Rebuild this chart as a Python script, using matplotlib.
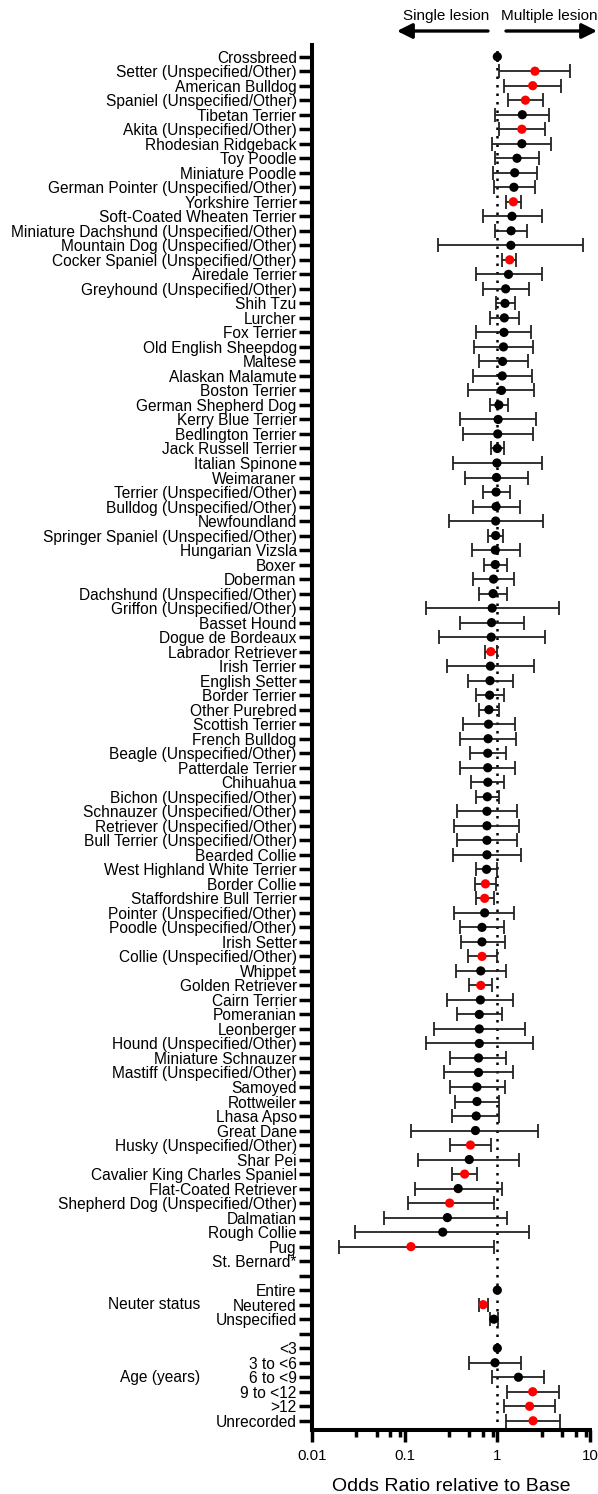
import numpy as np
import matplotlib.pyplot as plt
from matplotlib import transforms

plt.rcParams['font.family'] = 'Liberation Sans'

# rows top to bottom; "" rows are spacers between variable groups
labels = [
    "Crossbreed", "Setter (Unspecified/Other)", "American Bulldog",
    "Spaniel (Unspecified/Other)", "Tibetan Terrier", "Akita (Unspecified/Other)",
    "Rhodesian Ridgeback", "Toy Poodle", "Miniature Poodle",
    "German Pointer (Unspecified/Other)", "Yorkshire Terrier",
    "Soft-Coated Wheaten Terrier", "Miniature Dachshund (Unspecified/Other)",
    "Mountain Dog (Unspecified/Other)", "Cocker Spaniel (Unspecified/Other)",
    "Airedale Terrier", "Greyhound (Unspecified/Other)", "Shih Tzu", "Lurcher",
    "Fox Terrier", "Old English Sheepdog", "Maltese", "Alaskan Malamute",
    "Boston Terrier", "German Shepherd Dog", "Kerry Blue Terrier",
    "Bedlington Terrier", "Jack Russell Terrier", "Italian Spinone", "Weimaraner",
    "Terrier (Unspecified/Other)", "Bulldog (Unspecified/Other)", "Newfoundland",
    "Springer Spaniel (Unspecified/Other)", "Hungarian Vizsla", "Boxer",
    "Doberman", "Dachshund (Unspecified/Other)", "Griffon (Unspecified/Other)",
    "Basset Hound", "Dogue de Bordeaux", "Labrador Retriever", "Irish Terrier",
    "English Setter", "Border Terrier", "Other Purebred", "Scottish Terrier",
    "French Bulldog", "Beagle (Unspecified/Other)", "Patterdale Terrier",
    "Chihuahua", "Bichon (Unspecified/Other)", "Schnauzer (Unspecified/Other)",
    "Retriever (Unspecified/Other)", "Bull Terrier (Unspecified/Other)",
    "Bearded Collie", "West Highland White Terrier", "Border Collie",
    "Staffordshire Bull Terrier", "Pointer (Unspecified/Other)",
    "Poodle (Unspecified/Other)", "Irish Setter", "Collie (Unspecified/Other)",
    "Whippet", "Golden Retriever", "Cairn Terrier", "Pomeranian", "Leonberger",
    "Hound (Unspecified/Other)", "Miniature Schnauzer",
    "Mastiff (Unspecified/Other)", "Samoyed", "Rottweiler", "Lhasa Apso",
    "Great Dane", "Husky (Unspecified/Other)", "Shar Pei",
    "Cavalier King Charles Spaniel", "Flat-Coated Retriever",
    "Shepherd Dog (Unspecified/Other)", "Dalmatian", "Rough Collie", "Pug",
    "St. Bernard*", "",
    "Entire", "Neutered", "Unspecified", "",
    "<3", "3 to <6", "6 to <9", "9 to <12", ">12", "Unrecorded",
]

nan = np.nan
odds = [
    1.00, 2.55, 2.41, 2.01, 1.86, 1.84, 1.84, 1.63, 1.54, 1.51, 1.49, 1.44,
    1.41, 1.40, 1.36, 1.32, 1.23, 1.21, 1.19, 1.18, 1.165, 1.14, 1.13, 1.11,
    1.04, 1.02, 1.01, 1.00, 0.99, 0.98, 0.97, 0.97, 0.96, 0.96, 0.95, 0.95,
    0.91, 0.90, 0.88, 0.867, 0.86, 0.85, 0.842, 0.834, 0.826, 0.811, 0.803,
    0.795, 0.788, 0.788, 0.79, 0.78, 0.773, 0.773, 0.773, 0.773, 0.765, 0.744,
    0.73, 0.73, 0.683, 0.683, 0.683, 0.663, 0.663, 0.657, 0.639, 0.639, 0.639,
    0.627, 0.627, 0.603, 0.603, 0.592, 0.581, 0.513, 0.498, 0.444, 0.378,
    0.306, 0.289, 0.258, 0.117, nan, nan,
    1.00, 0.703, 0.918, nan,
    1.00, 0.944, 1.69, 2.41, 2.23, 2.43,
]
lower = [
    nan, 1.03, 1.18, 1.31, 0.953, 1.05, 0.883, 0.953, 0.892, 0.918, 1.25,
    0.703, 0.953, 0.228, 1.13, 0.592, 0.703, 0.963, 0.834, 0.592, 0.564, 0.627,
    0.543, 0.48, 0.842, 0.396, 0.424, 0.858, 0.334, 0.453, 0.696, 0.553, 0.298,
    0.803, 0.528, 0.723, 0.548, 0.639, 0.168, 0.396, 0.237, 0.744, 0.284, 0.48,
    0.586, 0.639, 0.424, 0.396, 0.508, 0.396, 0.518, 0.586, 0.367, 0.343, 0.367,
    0.334, 0.586, 0.575, 0.586, 0.343, 0.396, 0.408, 0.48, 0.357, 0.498, 0.284,
    0.367, 0.207, 0.168, 0.309, 0.265, 0.309, 0.347, 0.324, 0.118, 0.309, 0.139,
    0.324, 0.129, 0.108, 0.0593, 0.0293, 0.0196, nan, nan,
    nan, 0.627, 0.834, nan,
    nan, 0.489, 0.883, 1.27, 1.19, 1.25,
]
upper = [
    nan, 6.13, 4.92, 3.11, 3.63, 3.30, 3.84, 2.83, 2.67, 2.52, 1.81, 3.00,
    2.08, 8.40, 1.60, 3.00, 2.19, 1.57, 1.71, 2.32, 2.43, 2.15, 2.38, 2.47,
    1.29, 2.62, 2.43, 1.18, 3.00, 2.15, 1.38, 1.77, 3.14, 1.165, 1.74, 1.26,
    1.51, 1.27, 4.65, 1.93, 3.23, 0.98, 2.47, 1.46, 1.19, 1.04, 1.54, 1.60,
    1.25, 1.57, 1.18, 1.04, 1.63, 1.72, 1.64, 1.79, 1.00, 0.963, 0.918, 1.51,
    1.19, 1.20, 0.98, 1.25, 0.883, 1.48, 1.11, 1.97, 2.43, 1.25, 1.46, 1.21,
    1.05, 1.05, 2.72, 0.85, 1.72, 0.603, 1.11, 0.91, 1.27, 2.19, 0.91, nan, nan,
    nan, 0.788, 1.02, nan,
    nan, 1.81, 3.17, 4.60, 4.22, 4.74,
]

significant = [
    "Setter (Unspecified/Other)", "American Bulldog", "Spaniel (Unspecified/Other)",
    "Akita (Unspecified/Other)", "Yorkshire Terrier",
    "Cocker Spaniel (Unspecified/Other)", "Labrador Retriever", "Border Collie",
    "Staffordshire Bull Terrier", "Collie (Unspecified/Other)", "Golden Retriever",
    "Husky (Unspecified/Other)", "Cavalier King Charles Spaniel",
    "Shepherd Dog (Unspecified/Other)", "Pug", "Neutered", "9 to <12", ">12",
    "Unrecorded",
]

groups = {"Neuter status": "Neutered", "Age (years)": "6 to <9"}

odds = np.array(odds)
lower = np.array(lower)
upper = np.array(upper)
rows = np.arange(len(labels))

fig = plt.figure(figsize=(5.98, 14.94), dpi=100)
ax = fig.add_axes([0.5217, 0.0428, 0.4649, 0.9271])

# reference line at OR = 1
ax.axvline(1, color='black', lw=1.8, linestyle=(0, (1, 2.4)), zorder=1)

has_ci = ~np.isnan(lower)
ax.errorbar(odds[has_ci], rows[has_ci],
            xerr=[odds[has_ci] - lower[has_ci], upper[has_ci] - odds[has_ci]],
            fmt='none', ecolor='#222222', elinewidth=1.3, capsize=5,
            capthick=1.3, zorder=2)

colors = ['red' if lab in significant else 'black' for lab in labels]
has_or = ~np.isnan(odds)
ax.scatter(odds[has_or], rows[has_or], s=44,
           c=[c for c, k in zip(colors, has_or) if k], edgecolors='none',
           zorder=3)

ax.set_xscale('log')
ax.set_xlim(0.01, 10)
ax.set_ylim(94.64, -0.806)

ax.set_xticks([0.01, 0.1, 1, 10])
ax.set_xticklabels(['0.01', '0.1', '1', '10'])
ax.set_xticks([m * d for d in (0.01, 0.1, 1) for m in (3, 5, 7, 9)], minor=True)
ax.set_xticklabels([], minor=True)
ax.set_yticks(rows)
ax.set_yticklabels(labels)
ax.tick_params(axis='y', length=9.5, width=2.5, pad=1.5, labelsize=11.2)
ax.tick_params(axis='x', which='major', length=8.5, width=2.5, pad=5,
               labelsize=10.8)
ax.tick_params(axis='x', which='minor', length=5, width=2.5)

for side in ('top', 'right'):
    ax.spines[side].set_visible(False)
for side in ('left', 'bottom'):
    ax.spines[side].set_linewidth(2.9)

ax.set_xlabel('Odds Ratio relative to Base', fontsize=14, labelpad=11)

# variable group names to the left of the tick labels
trans = transforms.blended_transform_factory(fig.transFigure, ax.transData)
for name, anchor in groups.items():
    ax.text(200 / 598, labels.index(anchor), name, transform=trans,
            ha='right', va='center', fontsize=11.2)

# direction header above the plot
fig.text(446 / 598, 1 - 16 / 1494, 'Single lesion', ha='center', va='center',
         fontsize=11)
fig.text(549 / 598, 1 - 16 / 1494, 'Multiple lesion', ha='center',
         va='center', fontsize=11)
arrow = dict(arrowstyle='-|>,head_length=0.9,head_width=0.45', lw=2.4,
             color='black', mutation_scale=10, shrinkA=0, shrinkB=0)
ax.annotate('', xy=(397, 1494 - 31), xytext=(488, 1494 - 31),
            xycoords='figure pixels', textcoords='figure pixels',
            arrowprops=arrow, annotation_clip=False)
ax.annotate('', xy=(597, 1494 - 31), xytext=(506, 1494 - 31),
            xycoords='figure pixels', textcoords='figure pixels',
            arrowprops=arrow, annotation_clip=False)

fig.savefig('out.png', dpi=100)
